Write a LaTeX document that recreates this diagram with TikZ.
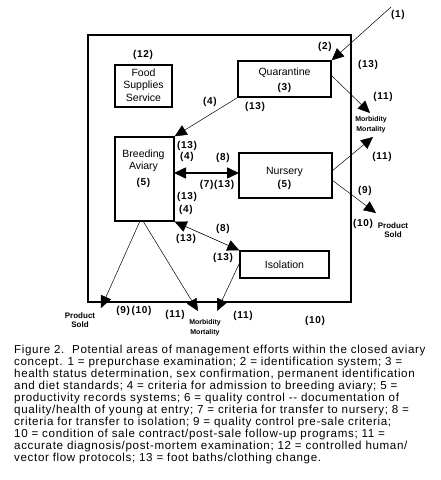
\documentclass[tikz,border=0pt]{standalone}
\usepackage{fontspec}
\setmainfont{Liberation Sans}
\usetikzlibrary{arrows.meta}
\begin{document}
\begin{tikzpicture}[x=1pt,y=-1pt,
  box/.style={draw,line width=1.4pt,inner sep=0pt},
  lbl/.style={font=\bfseries\fontsize{10}{10}\selectfont\addfontfeature{LetterSpace=7},inner sep=0pt},
  btxt/.style={font=\fontsize{10.5}{11}\selectfont,inner sep=0pt},
  small/.style={font=\bfseries\fontsize{7}{7.5}\selectfont,inner sep=0pt},
  prod/.style={font=\bfseries\fontsize{8}{8.5}\selectfont,inner sep=0pt},
  arr/.style={-{Triangle[length=12pt,width=11pt]},line width=0.5pt},
  dbl/.style={{Triangle[length=12pt,width=11pt]}-{Triangle[length=12pt,width=11pt]}}]
\useasboundingbox[fill=white] (0,0) rectangle (440,480);
% outer frame
\draw[line width=2pt] (88,35) rectangle (351,302);
% boxes
\node[box,minimum width=57pt,minimum height=42pt] (food) at (143.5,86) {};
\node[box,minimum width=93pt,minimum height=36pt] (quar) at (284.5,79) {};
\node[box,minimum width=59pt,minimum height=84pt] (breed) at (144.5,179) {};
\node[box,minimum width=93pt,minimum height=45pt] (nurs) at (285.5,175.5) {};
\node[box,minimum width=89pt,minimum height=27pt] (iso) at (284.5,264.5) {};
% box texts
\node[btxt] (tf1) at (143.5,73) {Food};
\node[btxt] (tf2) at (143.5,86) {Supplies};
\node[btxt] (tf3) at (143.5,98) {Service};
\node[btxt] (tq1) at (284.5,73) {Quarantine};
\node[lbl] (tq2) at (284.5,88) {(3)};
\node[btxt] (tb1) at (143.5,155) {Breeding};
\node[btxt] (tb2) at (143.5,167) {Aviary};
\node[lbl] (tb3) at (143.5,183) {(5)};
\node[btxt] (tn1) at (284.5,172) {Nursery};
\node[lbl] (tn2) at (284.5,184.5) {(5)};
\node[btxt] (ti1) at (284.5,264.5) {Isolation};
% coordinates
\coordinate (src) at (391,7);
\coordinate (qe) at (331,75);
\coordinate (m1) at (370,113);
\coordinate (ne1) at (332,171);
\coordinate (m2) at (373,137);
\coordinate (ne2) at (332,180);
\coordinate (p1) at (376,213);
\coordinate (be) at (174,173);
\coordinate (nw) at (239,173);
\coordinate (bb1) at (140,221);
\coordinate (bb2) at (143,221);
\coordinate (p2) at (101,308);
\coordinate (m3) at (198,311);
\coordinate (iw) at (240,262);
\coordinate (m4) at (217,311);
% connectors
\draw[arr] (src) -- (quar.north east);
\draw[arr] (qe) -- (m1);
\draw[arr] (quar.south west) -- (breed.north east);
\draw[dbl,line width=1.6pt] (be) -- (nw);
\draw[dbl,line width=0.6pt] (breed.south east) -- (iso.north west);
\draw[arr] (ne1) -- (m2);
\draw[arr] (ne2) -- (p1);
\draw[arr] (bb1) -- (p2);
\draw[arr] (bb2) -- (m3);
\draw[arr] (iw) -- (m4);
% labels
\node[lbl] (l12) at (143,55) {(12)};
\node[lbl] (l2) at (325,47) {(2)};
\node[lbl] (l1) at (398,15) {(1)};
\node[lbl] (l13a) at (368,65) {(13)};
\node[lbl] (l11a) at (383,97) {(11)};
\node[small] (mb1) at (371,120) {Morbidity};
\node[small] (mt1) at (371,130) {Mortality};
\node[lbl] (l4a) at (210,102) {(4)};
\node[lbl] (l13b) at (255,107) {(13)};
\node[lbl] (l13c) at (187,146) {(13)};
\node[lbl] (l4b) at (187,157) {(4)};
\node[lbl] (l8a) at (223,158) {(8)};
\node[lbl] (l713) at (217,185) {(7)(13)};
\node[lbl] (l11b) at (382,157) {(11)};
\node[lbl] (l9a) at (365,191) {(9)};
\node[lbl] (l10a) at (363,224) {(10)};
\node[prod] (ps1) at (393,226) {Product};
\node[prod] (sd1) at (393,235) {Sold};
\node[lbl] (l13d) at (187,197) {(13)};
\node[lbl] (l4c) at (186,210) {(4)};
\node[lbl] (l13e) at (186,239) {(13)};
\node[lbl] (l8b) at (223,229) {(8)};
\node[lbl] (l13f) at (223,258) {(13)};
\node[prod] (ps2) at (80,316) {Product};
\node[prod] (sd2) at (80,325) {Sold};
\node[lbl] (l910) at (134,311) {(9)\,(10)};
\node[lbl] (l11c) at (175,315) {(11)};
\node[small] (mb2) at (205,323) {Morbidity};
\node[small] (mt2) at (205,333) {Mortality};
\node[lbl] (l11d) at (243,316) {(11)};
\node[lbl] (l10b) at (315,321) {(10)};
% caption
\node[anchor=north west,align=left,inner sep=0pt,font=\fontsize{11.6}{12}\selectfont\addfontfeature{LetterSpace=5.5}] (cap) at (14,345) {%
Figure 2.\ \ Potential areas of management efforts within the closed aviary\\
concept. 1 = prepurchase examination; 2 = identification system; 3 =\\
health status determination, sex confirmation, permanent identification\\
and diet standards; 4 = criteria for admission to breeding aviary; 5 =\\
productivity records systems; 6 = quality control -{}- documentation of\\
quality/health of young at entry; 7 = criteria for transfer to nursery; 8 =\\
criteria for transfer to isolation; 9 = quality control pre-sale criteria;\\
10 = condition of sale contract/post-sale follow-up programs; 11 =\\
accurate diagnosis/post-mortem examination; 12 = controlled human/\\
vector flow protocols; 13 = foot baths/clothing change.};
\end{tikzpicture}
\end{document}
